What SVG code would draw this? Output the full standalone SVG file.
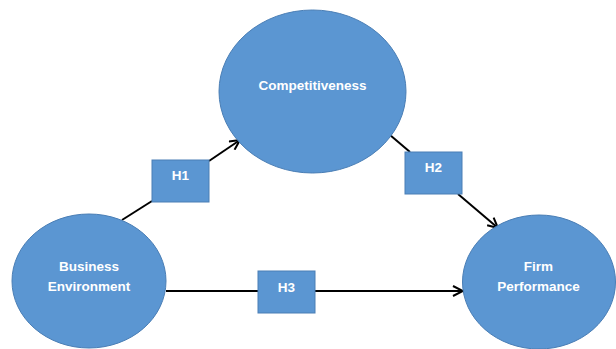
<svg xmlns="http://www.w3.org/2000/svg" width="616" height="349" viewBox="0 0 616 349">
<defs>
<style>
.node{fill:#5B96D2;stroke:#4A7EB5;stroke-width:1}
.lbl{font-family:"Liberation Sans",Arial,sans-serif;font-weight:bold;font-size:13.5px;fill:#ffffff;text-anchor:middle}
.conn{stroke:#000000;stroke-width:2;fill:none}
</style>
<marker id="arr" viewBox="0 0 12 12" refX="11" refY="6" markerWidth="12" markerHeight="12" markerUnits="userSpaceOnUse" orient="auto">
<path d="M1,1 L11,6 L1,11" fill="none" stroke="#000000" stroke-width="2"/>
</marker>
</defs>
<rect width="616" height="349" fill="#ffffff"/>
<g id="connectors">
<line class="conn" x1="122" y1="220" x2="152" y2="201"/>
<line class="conn" x1="209" y1="161" x2="240" y2="140" marker-end="url(#arr)"/>
<line class="conn" x1="390" y1="135" x2="410" y2="152"/>
<line class="conn" x1="458" y1="194" x2="498" y2="228" marker-end="url(#arr)"/>
<line class="conn" x1="166" y1="291" x2="258" y2="291"/>
<line class="conn" x1="315" y1="291" x2="463" y2="291" marker-end="url(#arr)"/>
</g>
<g id="competitiveness">
<ellipse class="node" cx="312.5" cy="91.5" rx="93.5" ry="81.5"/>
<text class="lbl" x="312.5" y="90">Competitiveness</text>
</g>
<g id="business-environment">
<ellipse class="node" cx="89" cy="281" rx="77" ry="67"/>
<text class="lbl" x="89" y="271">Business</text>
<text class="lbl" x="89" y="291">Environment</text>
</g>
<g id="firm-performance">
<ellipse class="node" cx="539" cy="282" rx="76.5" ry="67"/>
<text class="lbl" x="538.5" y="271">Firm</text>
<text class="lbl" x="538.5" y="291">Performance</text>
</g>
<g id="h1">
<rect class="node" x="152" y="160" width="57" height="42"/>
<text class="lbl" x="180.5" y="180">H1</text>
</g>
<g id="h2">
<rect class="node" x="405" y="152" width="57" height="42"/>
<text class="lbl" x="433.5" y="172">H2</text>
</g>
<g id="h3">
<rect class="node" x="258" y="271" width="57" height="42"/>
<text class="lbl" x="286.5" y="292">H3</text>
</g>
</svg>
